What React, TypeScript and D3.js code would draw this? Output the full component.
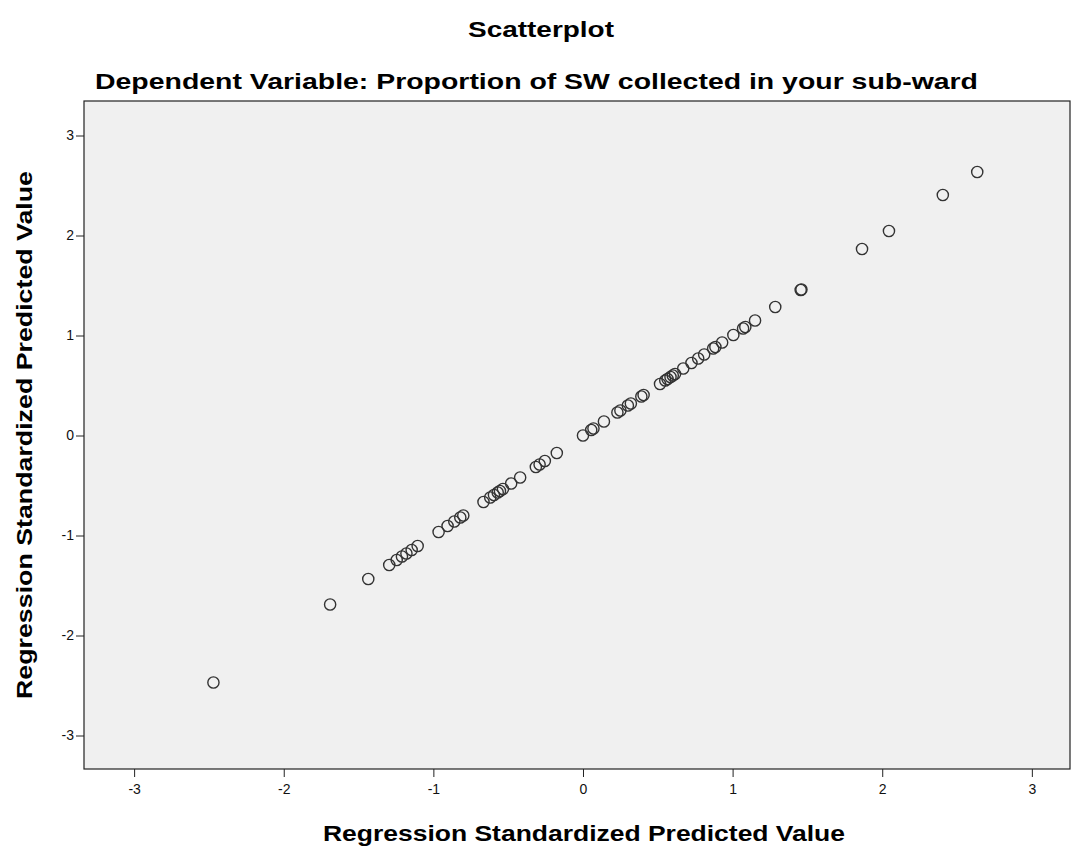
import React, { useEffect, useRef } from "react";
import * as d3 from "d3";

// standardized predicted values (same variable plotted on both axes)
const predictedValues = [
    -2.47, -1.69, -1.435, -1.295, -1.245, -1.21, -1.18, -1.145, -1.105,
    -0.965, -0.905, -0.86, -0.82, -0.8, -0.665, -0.62, -0.595, -0.57, -0.555,
    -0.535, -0.48, -0.42, -0.315, -0.29, -0.255, -0.175, 0.0, 0.055, 0.07,
    0.14, 0.23, 0.25, 0.3, 0.32, 0.39, 0.405, 0.515, 0.55, 0.565, 0.585, 0.6,
    0.615, 0.67, 0.725, 0.77, 0.81, 0.87, 0.885, 0.93, 1.005, 1.07, 1.085,
    1.15, 1.285, 1.455, 1.46, 1.865, 2.045, 2.405, 2.635,
];
const tickValues = [-3, -2, -1, 0, 1, 2, 3];

const chartTitle = "Scatterplot";
const chartSubtitle = "Dependent Variable: Proportion of SW collected in your sub-ward";
const axisTitle = "Regression Standardized Predicted Value";

const WIDTH = 1073;
const HEIGHT = 852;
const FONT = "'Liberation Sans', Arial, sans-serif";

export default function App() {
    const svgRef = useRef<SVGSVGElement>(null);

    useEffect(() => {
        const svg = d3.select(svgRef.current);
        svg.selectAll("*").remove();

        const margin = { top: 101, right: 3, bottom: 83, left: 84 };
        const x = d3.scaleLinear()
            .domain([-3.335, 3.255])
            .range([margin.left, WIDTH - margin.right]);
        const y = d3.scaleLinear()
            .domain([-3.335, 3.345])
            .range([HEIGHT - margin.bottom, margin.top]);

        // plot background + frame
        svg.append("rect")
            .attr("x", margin.left)
            .attr("y", margin.top)
            .attr("width", WIDTH - margin.right - margin.left)
            .attr("height", HEIGHT - margin.bottom - margin.top)
            .attr("fill", "#f0f0f0")
            .attr("stroke", "#222")
            .attr("stroke-width", 1.2);

        // axes (hyphen minus like the original, not unicode minus)
        const fmt = (d) => String(d);
        const xAxis = d3.axisBottom(x).tickValues(tickValues).tickSize(8).tickFormat(fmt);
        const gx = svg.append("g")
            .attr("transform", `translate(0, ${HEIGHT - margin.bottom})`)
            .call(xAxis);
        gx.select(".domain").remove();
        gx.selectAll("line").attr("stroke", "#222");
        gx.selectAll("text")
            .attr("fill", "#111")
            .attr("font-family", FONT)
            .attr("font-size", 14)
            .attr("dy", "1.0em");

        const yAxis = d3.axisLeft(y).tickValues(tickValues).tickSize(8).tickFormat(fmt);
        const gy = svg.append("g")
            .attr("transform", `translate(${margin.left}, 0)`)
            .call(yAxis);
        gy.select(".domain").remove();
        gy.selectAll("line").attr("stroke", "#222");
        gy.selectAll("text")
            .attr("fill", "#111")
            .attr("font-family", FONT)
            .attr("font-size", 14)
            .attr("x", -10);

        // points
        svg.append("g")
            .selectAll("circle")
            .data(predictedValues)
            .enter()
            .append("circle")
            .attr("cx", (d) => x(d))
            .attr("cy", (d) => y(d))
            .attr("r", 5.6)
            .attr("fill", "none")
            .attr("stroke", "#333")
            .attr("stroke-width", 1.4);

        // titles (the original text is stretched horizontally)
        const addText = (txt, tx, ty, len, rotate = 0) => {
            svg.append("text")
                .attr("transform", `translate(${tx}, ${ty}) rotate(${rotate})`)
                .attr("text-anchor", "middle")
                .attr("font-family", FONT)
                .attr("font-weight", "bold")
                .attr("font-size", 22)
                .attr("fill", "#000")
                .attr("textLength", len)
                .attr("lengthAdjust", "spacingAndGlyphs")
                .text(txt);
        };

        addText(chartTitle, 541, 37, 146);
        addText(chartSubtitle, 536.5, 89, 883);
        addText(axisTitle, 584, 841, 522);
        addText(axisTitle, 32, 435, 528, -90);
    }, []);

    return (
        <div style={{ position: "absolute", left: 0, top: 0, background: "#fff" }}>
            <svg ref={svgRef} width={WIDTH} height={HEIGHT} style={{ display: "block" }}></svg>
        </div>
    );
}
